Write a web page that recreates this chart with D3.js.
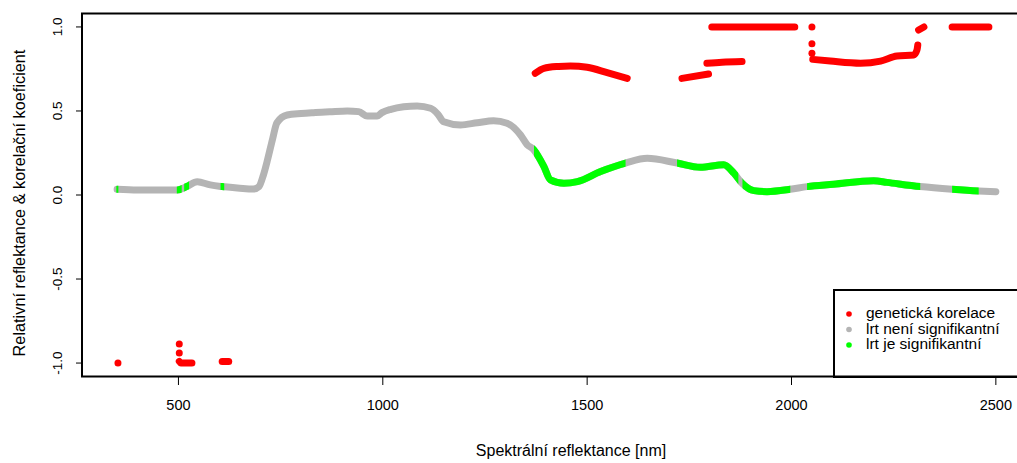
<!DOCTYPE html>
<meta charset="utf-8">
<title>Spektrální reflektance</title>
<style>

body {
  margin: 0;
  background: #fff;
}

svg {
  font-family: "Liberation Sans", Arial, sans-serif;
}

.frame {
  fill: none;
  stroke: #000;
  stroke-width: 2;
}

</style>
<body>
<script src="https://d3js.org/d3.v7.min.js"></script>
<script>

// reflectance curve (grey)
var refWl = [350, 400, 450, 497, 520, 546, 578, 607, 650, 683, 697, 708, 718, 730, 741, 766, 800, 830, 870, 913,
             941, 962, 986, 998, 1020, 1051, 1084, 1117, 1135, 1149, 1190, 1231, 1271, 1304, 1337, 1353, 1369,
             1394, 1410, 1443, 1476, 1533, 1594, 1647, 1720, 1777, 1834, 1859, 1879, 1908, 1940, 1997, 2038,
             2103, 2201, 2234, 2315, 2393, 2458, 2500];
var refVal = [0.034, 0.03, 0.03, 0.03, 0.05, 0.079, 0.06, 0.05, 0.04, 0.035, 0.05, 0.12, 0.21, 0.33, 0.43, 0.476,
              0.485, 0.49, 0.495, 0.50, 0.496, 0.47, 0.47, 0.49, 0.51, 0.525, 0.53, 0.516, 0.48, 0.436, 0.417,
              0.43, 0.442, 0.427, 0.357, 0.30, 0.27, 0.17, 0.09, 0.07, 0.08, 0.14, 0.19, 0.218, 0.19, 0.165,
              0.18, 0.13, 0.07, 0.026, 0.02, 0.034, 0.05, 0.064, 0.085, 0.075, 0.05, 0.034, 0.024, 0.02];

// wavelength ranges where lrt is significant (green)
var sigRanges = [[348, 353], [496, 508], [514, 526], [603, 612], [1370, 1594], [1720, 1870],
                 [1880, 1997], [2038, 2315], [2393, 2458]];

// genetic correlation, runs of [wavelength, r]
var genCorrRuns = [
  [[352, -1.0]],
  [[502, -0.887]],
  [[502, -0.94]],
  [[502, -0.99], [506, -1.0], [533, -1.0]],
  [[607, -0.99], [623, -0.99]],
  [[1373, 0.724], [1394, 0.754], [1430, 0.765], [1459, 0.768], [1500, 0.76], [1549, 0.728], [1598, 0.694]],
  [[1732, 0.694], [1797, 0.72]],
  [[1793, 0.784], [1830, 0.79], [1879, 0.794]],
  [[1805, 1.0], [2008, 1.0]],
  [[2050, 1.0]],
  [[2050, 0.9]],
  [[2050, 0.843]],
  [[2052, 0.807], [2095, 0.797], [2169, 0.784], [2218, 0.797], [2258, 0.827], [2299, 0.833], [2307, 0.863], [2309, 0.893]],
  [[2311, 0.982], [2324, 1.0]],
  [[2393, 1.0], [2483, 1.0]]
];

var xTicks = [500, 1000, 1500, 2000, 2500];
var yTicks = [-1.0, -0.5, 0.0, 0.5, 1.0];
var yTickLabels = ["-1.0", "-0.5", "0.0", "0.5", "1.0"];

var legendLabels = ["genetická korelace", "lrt není signifikantní", "lrt je signifikantní"];
var legendColors = ["#ff0000", "#b4b4b4", "#00ff00"];

var width = 1017, height = 463;

var x = d3.scaleLinear()
    .domain([264, 2586])
    .range([82, 1031]);

var y = d3.scaleLinear()
    .domain([-1.08, 1.08])
    .range([376.5, 13.5]);

var svg = d3.select("body").append("svg")
    .attr("width", width)
    .attr("height", height);

var defs = svg.append("defs");
var clip = defs.append("clipPath").attr("id", "sig");
clip.selectAll("rect")
    .data(sigRanges)
  .enter().append("rect")
    .attr("x", function(d) { return x(d[0]); })
    .attr("width", function(d) { return x(d[1]) - x(d[0]); })
    .attr("y", 0)
    .attr("height", height);

var refData = refWl.map(function(w, i) { return [w, refVal[i]]; });

var line = d3.line()
    .x(function(d) { return x(d[0]); })
    .y(function(d) { return y(d[1]); })
    .curve(d3.curveMonotoneX);

svg.append("path")
    .datum(refData)
    .attr("d", line)
    .attr("fill", "none")
    .attr("stroke", legendColors[1])
    .attr("stroke-width", 7)
    .attr("stroke-linecap", "round")
    .attr("stroke-linejoin", "round");

svg.append("path")
    .datum(refData)
    .attr("d", line)
    .attr("clip-path", "url(#sig)")
    .attr("fill", "none")
    .attr("stroke", legendColors[2])
    .attr("stroke-width", 7)
    .attr("stroke-linecap", "round");

// genetic correlation runs
svg.selectAll(".run")
    .data(genCorrRuns.filter(function(r) { return r.length > 1; }))
  .enter().append("path")
    .attr("class", "run")
    .attr("d", line)
    .attr("fill", "none")
    .attr("stroke", legendColors[0])
    .attr("stroke-width", 7)
    .attr("stroke-linecap", "round")
    .attr("stroke-linejoin", "round");

svg.selectAll(".dot")
    .data(genCorrRuns.filter(function(r) { return r.length == 1; }))
  .enter().append("circle")
    .attr("class", "dot")
    .attr("cx", function(d) { return x(d[0][0]); })
    .attr("cy", function(d) { return y(d[0][1]); })
    .attr("r", 3.5)
    .attr("fill", legendColors[0]);

// axes
var xAxis = svg.append("g");
xAxis.selectAll("line")
    .data(xTicks)
  .enter().append("line")
    .attr("x1", x).attr("x2", x)
    .attr("y1", 377).attr("y2", 385)
    .attr("stroke", "#000");
xAxis.selectAll("text")
    .data(xTicks)
  .enter().append("text")
    .attr("x", x)
    .attr("y", 410)
    .attr("text-anchor", "middle")
    .attr("font-size", 14.5)
    .text(function(d) { return d; });

var yAxis = svg.append("g");
yAxis.selectAll("line")
    .data(yTicks)
  .enter().append("line")
    .attr("x1", 76).attr("x2", 82)
    .attr("y1", y).attr("y2", y)
    .attr("stroke", "#000");
yAxis.selectAll("text")
    .data(yTicks)
  .enter().append("text")
    .attr("transform", function(d) { return "translate(62," + y(d) + ") rotate(-90)"; })
    .attr("text-anchor", "middle")
    .attr("font-size", 13.5)
    .text(function(d, i) { return yTickLabels[i]; });

svg.append("text")
    .attr("x", 571)
    .attr("y", 456)
    .attr("text-anchor", "middle")
    .attr("font-size", 16)
    .text("Spektrální reflektance [nm]");

svg.append("text")
    .attr("transform", "translate(25,203) rotate(-90)")
    .attr("text-anchor", "middle")
    .attr("font-size", 16.3)
    .text("Relativní reflektance & korelační koeficient");

// plot frame
svg.append("rect")
    .attr("class", "frame")
    .attr("x", x.range()[0])
    .attr("y", y.range()[1])
    .attr("width", x.range()[1] - x.range()[0])
    .attr("height", y.range()[0] - y.range()[1]);

// legend
var legend = svg.append("g");
legend.append("rect")
    .attr("class", "frame")
    .attr("x", 834)
    .attr("y", 290)
    .attr("width", 200)
    .attr("height", 87);

var item = legend.selectAll(".item")
    .data(legendLabels)
  .enter().append("g")
    .attr("transform", function(d, i) { return "translate(0," + (318 + i * 15.5) + ")"; });

item.append("circle")
    .attr("cx", 849)
    .attr("cy", -4)
    .attr("r", 2.8)
    .attr("fill", function(d, i) { return legendColors[i]; });

item.append("text")
    .attr("x", 866)
    .attr("y", 0)
    .attr("font-size", 15.5)
    .text(function(d) { return d; });

</script>
</body>
